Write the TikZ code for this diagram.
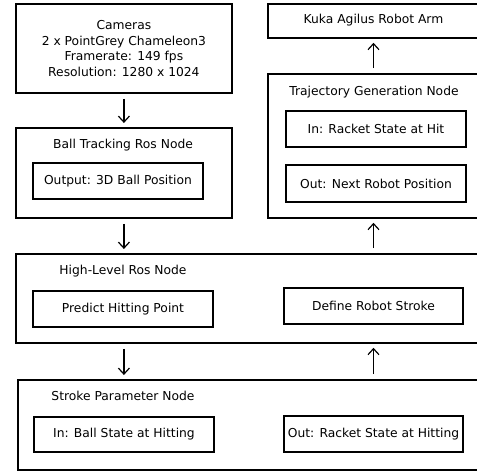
\documentclass[tikz,border=0pt]{standalone}
\usepackage{fontspec}
\setmainfont{DejaVu Sans}
\usetikzlibrary{arrows.meta,positioning,calc}

\begin{document}
\begin{tikzpicture}[x=1pt, y=-1pt,
    font=\fontsize{12.3}{15.5}\selectfont,
    outer/.style={draw, line width=1.8pt, inner sep=0pt, anchor=north west},
    inner/.style={draw, line width=1.8pt, inner sep=0pt},
    link/.style={-{Straight Barb[length=6pt,width=11pt]}, line width=1.2pt, shorten <=5pt, shorten >=4pt}]
    \useasboundingbox (0, 0) rectangle (477, 471);
    \clip (0, 0) rectangle (477, 471);
    % left column
    \node[outer, minimum width=216pt, minimum height=89pt, align=center] (cam) at (15, 3)
        {Cameras\\2 x PointGrey Chameleon3\\Framerate: 149 fps\\Resolution: 1280 x 1024};
    \node[outer, minimum width=216pt, minimum height=90pt] (track) at (15, 127) {};
    \node (tracktitle) at (123, 145) {Ball Tracking Ros Node};
    \node[inner, minimum width=170pt, minimum height=36pt] (ballpos) at (118, 181) {Output: 3D Ball Position};
    % right column
    \node[outer, minimum width=240pt, minimum height=34pt] (kuka) at (267, 3) {};
    \node (kukatitle) at (373.5, 20) {Kuka Agilus Robot Arm};
    \node[outer, minimum width=240pt, minimum height=144pt] (traj) at (267, 73) {};
    \node (trajtitle) at (374, 92) {Trajectory Generation Node};
    \node[inner, minimum width=180pt, minimum height=36pt] (hitin) at (376, 129) {In: Racket State at Hit};
    \node[inner, minimum width=180pt, minimum height=37pt] (nextpos) at (376, 183.5) {Out: Next Robot Position};
    % wide nodes
    \node[outer, minimum width=480pt, minimum height=89pt] (high) at (15, 253) {};
    \node (hightitle) at (123, 271) {High-Level Ros Node};
    \node[inner, minimum width=180pt, minimum height=36pt] (predict) at (123, 309) {Predict Hitting Point};
    \node[inner, minimum width=179pt, minimum height=36pt] (define) at (373.5, 306) {Define Robot Stroke};
    \node[outer, minimum width=480pt, minimum height=90pt] (stroke) at (17, 379) {};
    \node (stroketitle) at (123, 396) {Stroke Parameter Node};
    \node[inner, minimum width=180pt, minimum height=35pt] (ballin) at (124, 434.5) {In: Ball State at Hitting};
    \node[inner, minimum width=179pt, minimum height=36pt] (racketout) at (373.5, 434) {Out: Racket State at Hitting};
    % connections
    \draw[link] (cam.south) -- (track.north);
    \draw[link] (track.south) -- (track.south |- high.north);
    \draw[link] (track.south |- high.south) -- (track.south |- stroke.north);
    \draw[link] (define.north |- stroke.north) -- (define.north |- high.south);
    \draw[link] (define.north |- high.north) -- (define.north |- traj.south);
    \draw[link] (define.north |- traj.north) -- (define.north |- kuka.south);
\end{tikzpicture}
\end{document}
